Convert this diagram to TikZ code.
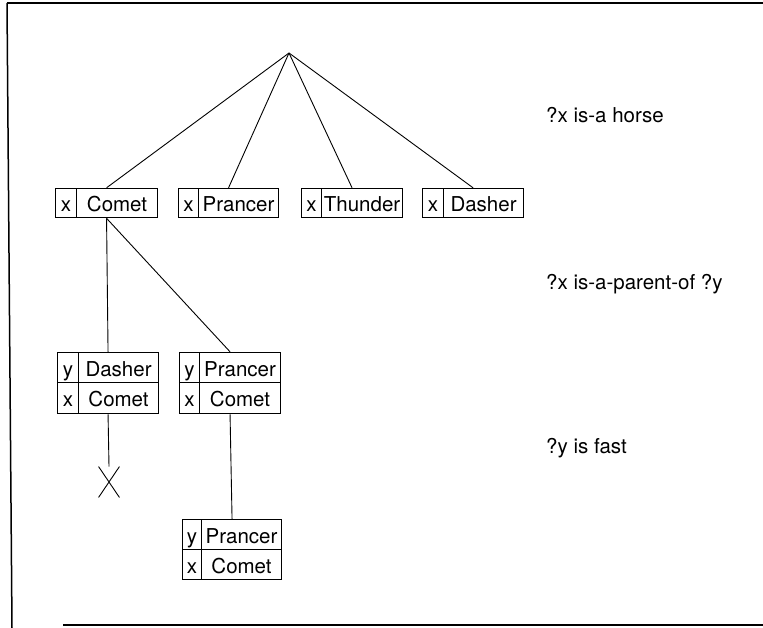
\documentclass[tikz,border=0pt]{standalone}
\usepackage{fontspec}
\setmainfont{TeX Gyre Heros}
\usetikzlibrary{fit,shapes.misc}
\tikzset{
  cell/.style={draw, line width=1.1pt, inner sep=0pt, anchor=north west,
    text height=17pt, text depth=0pt, font=\fontsize{20.5}{24}\selectfont},
  whole/.style={inner sep=0pt},
  link/.style={line width=0.9pt},
  frameline/.style={line width=1.5pt},
  rulelabel/.style={anchor=base west, inner sep=0pt, font=\fontsize{20.5}{24}\selectfont},
  failmark/.style={cross out, draw, line width=0.9pt, minimum width=20pt, minimum height=30pt, inner sep=0pt}
}
% \rec{name}{left}{div}{right}{top}{bottom}{label}{value}
\newcommand{\rec}[8]{%
  \pgfmathsetmacro{\wl}{#3-#2}%
  \pgfmathsetmacro{\wv}{#4-#3}%
  \pgfmathsetmacro{\hh}{#6-#5}%
  \node[cell, minimum width=\wl pt, minimum height=\hh pt] (#1-l) at (#2pt,-#5pt) {#7};
  \node[cell, minimum width=\wv pt, minimum height=\hh pt] (#1-v) at (#3pt,-#5pt) {#8};
}
\begin{document}
\begin{tikzpicture}[x=1pt,y=1pt]
\useasboundingbox (0,0) rectangle (763,-628);
% frame
\draw[frameline] (7,-3) -- (763,-3);
\draw[frameline] (7,-3) -- (12,-628);
\draw[frameline] (63,-625) -- (763,-625);

\coordinate (apex) at (289,-53);

% level 1
\rec{comet}{55}{76}{157}{188}{217}{x}{Comet}
\node[whole, fit=(comet-l)(comet-v)] (comet) {};
\rec{prancer}{178}{198}{278}{188}{217}{x}{Prancer}
\node[whole, fit=(prancer-l)(prancer-v)] (prancer) {};
\rec{thunder}{301}{321}{402}{188}{217}{x}{Thunder}
\node[whole, fit=(thunder-l)(thunder-v)] (thunder) {};
\rec{dasher}{422}{443}{523}{188}{217}{x}{Dasher}
\node[whole, fit=(dasher-l)(dasher-v)] (dasher) {};

% level 2
\rec{lya}{57}{78}{158}{352}{382}{y}{Dasher}
\rec{lxa}{57}{78}{158}{382}{413}{x}{Comet}
\node[whole, fit=(lya-l)(lxa-v)] (stackL) {};
\rec{rya}{179}{199}{280}{352}{382}{y}{Prancer}
\rec{rxa}{179}{199}{280}{382}{413}{x}{Comet}
\node[whole, fit=(rya-l)(rxa-v)] (stackR) {};

% level 3
\rec{tyb}{182}{201}{281}{519}{549}{y}{Prancer}
\rec{txb}{182}{201}{281}{549}{579}{x}{Comet}
\node[whole, fit=(tyb-l)(txb-v)] (stack3) {};

% failure mark
\node[failmark] (fail) at (109,-482) {};

% connectors
\draw[link] (apex) -- (comet.north);
\draw[link] (apex) -- (prancer.north);
\draw[link] (apex) -- (thunder.north);
\draw[link] (apex) -- (dasher.north);
\draw[link] (comet.south) -- (stackL.north);
\draw[link] (comet.south) -- (stackR.north);
\draw[link] (stackL.south) -- (fail.north);
\draw[link] (stackR.south) -- (stack3.north);

% rule labels
\node[rulelabel] (r1) at (546,-123) {?x is-a horse};
\node[rulelabel] (r2) at (546,-290) {?x is-a-parent-of ?y};
\node[rulelabel] (r3) at (546,-453) {?y is fast};
\end{tikzpicture}
\end{document}
